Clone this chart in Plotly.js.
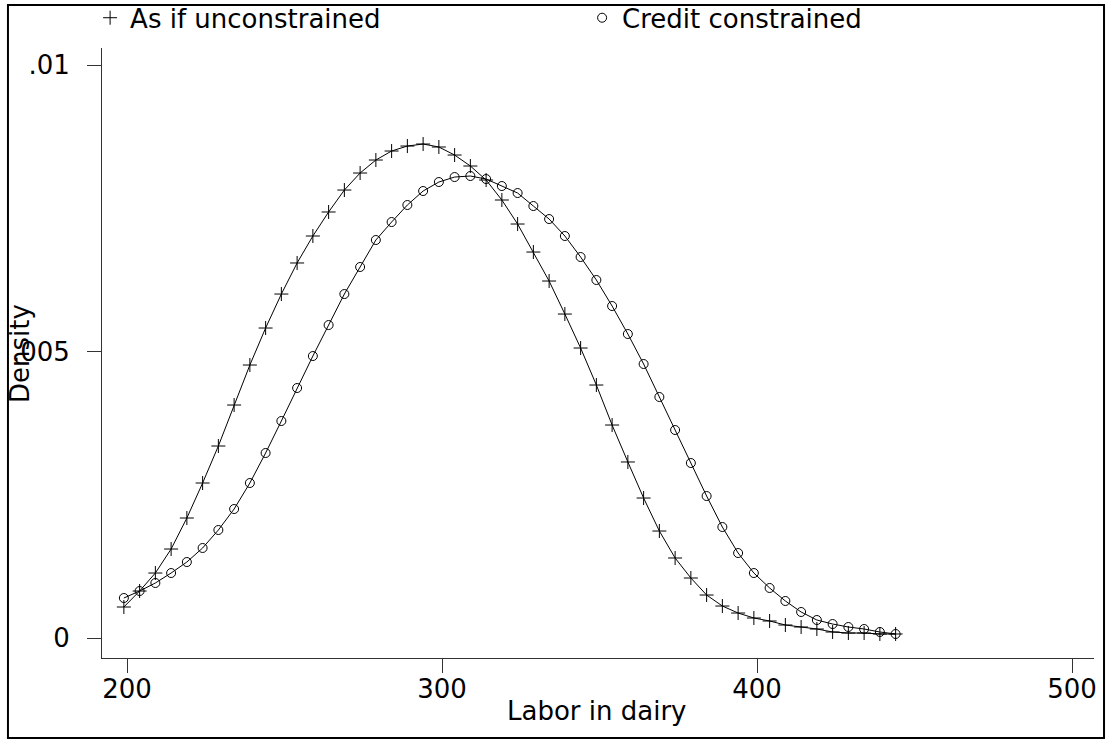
<!DOCTYPE html>
<html>
<head>
<meta charset="utf-8">
<script src="https://cdn.plot.ly/plotly-3.0.1.min.js"></script>
<style>html,body{margin:0;padding:0;background:#fff;}#chart{width:1113px;height:740px;}</style>
</head>
<body>
<div id="chart"></div>
<script>
// Labor in dairy grid points
const laborX = [199,204,209,214,219,224,229,234,239,244,249,254,259,264,269,274,279,284,289,294,
                299,304,309,314,319,324,329,334,339,344,349,354,359,364,369,374,379,384,389,394,
                399,404,409,414,419,424,429,434,439,444];
// Density: as if unconstrained
const densUnconstrained = [0.000541,0.000820,0.001134,0.001553,0.002094,0.002705,0.003351,0.004066,0.004764,0.005410,
                           0.006003,0.006545,0.007016,0.007435,0.007818,0.008115,0.008342,0.008499,0.008586,0.008621,
                           0.008569,0.008429,0.008237,0.007993,0.007644,0.007225,0.006736,0.006230,0.005654,0.005061,
                           0.004415,0.003717,0.003072,0.002443,0.001867,0.001396,0.001047,0.000750,0.000558,0.000436,
                           0.000349,0.000297,0.000227,0.000192,0.000157,0.000105,0.000087,0.000087,0.000070,0.000070];
// Density: credit constrained
const densConstrained = [0.000698,0.000820,0.000960,0.001134,0.001326,0.001571,0.001885,0.002251,0.002705,0.003229,
                         0.003787,0.004363,0.004921,0.005462,0.006003,0.006475,0.006946,0.007260,0.007557,0.007801,
                         0.007958,0.008045,0.008063,0.008010,0.007888,0.007766,0.007539,0.007312,0.007016,0.006649,
                         0.006248,0.005794,0.005305,0.004782,0.004206,0.003630,0.003054,0.002478,0.001937,0.001483,
                         0.001134,0.000873,0.000646,0.000454,0.000314,0.000244,0.000192,0.000157,0.000105,0.000070];
const seriesNames = ["As if unconstrained", "Credit constrained"];
const xTickVals = [200, 300, 400, 500];
const xTickText = ["200", "300", "400", "500"];
const yTickVals = [0, 0.005, 0.01];
const yTickText = ["0", ".005", ".01"];
const xTitle = "Labor in dairy";
const yTitle = "Density";

const FONT = "DejaVu Sans, Verdana, sans-serif";
const FS = 26;
const traces = [
  {x: laborX, y: densUnconstrained, type: "scatter", mode: "lines", showlegend: false,
   line: {color: "#000", width: 1}},
  {x: laborX, y: densConstrained, type: "scatter", mode: "lines", showlegend: false,
   line: {color: "#000", width: 1}},
  {x: laborX, y: densUnconstrained, name: seriesNames[0], type: "scatter", mode: "markers",
   marker: {symbol: "cross-thin-open", size: 10, color: "#000", line: {color: "#000", width: 1}}},
  {x: laborX, y: densConstrained, name: seriesNames[1], type: "scatter", mode: "markers",
   marker: {symbol: "circle-open", size: 9, color: "#000", line: {color: "#000", width: 1}}}
];

const layout = {
  width: 1113, height: 740,
  margin: {l: 102, r: 19, t: 48, b: 82, pad: 0, autoexpand: false},
  paper_bgcolor: "#fff", plot_bgcolor: "#fff",
  font: {family: FONT, size: FS, color: "#000"},
  showlegend: true,
  legend: {orientation: "h", x: -0.012, xanchor: "left", y: 1.088, yanchor: "top",
           entrywidth: 447, entrywidthmode: "pixels",
           font: {family: FONT, size: FS, color: "#000"}, bgcolor: "rgba(0,0,0,0)",
           itemsizing: "trace", tracegroupgap: 0},
  xaxis: {range: [192.06, 506.98], showline: true, linecolor: "#333", linewidth: 1,
          showgrid: false, zeroline: false, ticks: "outside", ticklen: 14, tickcolor: "#333",
          tickvals: xTickVals, ticktext: xTickText, tickfont: {size: FS}, mirror: false,
          ticklabelstandoff: -6},
  yaxis: {range: [-0.000349, 0.010297], showline: true, linecolor: "#333", linewidth: 1,
          showgrid: false, zeroline: false, ticks: "outside", ticklen: 14, tickcolor: "#333",
          tickvals: yTickVals, ticktext: yTickText, tickfont: {size: FS}, ticklabelstandoff: 12},
  annotations: [
    {text: xTitle, xref: "paper", yref: "paper", x: 0.499, y: -0.0869, xanchor: "center", yanchor: "middle",
     showarrow: false, font: {size: FS}},
    {text: yTitle, xref: "paper", yref: "paper", x: -0.0827, y: 0.5, xanchor: "center", yanchor: "middle",
     textangle: -90, showarrow: false, font: {size: FS}}
  ],
  shapes: [
    {type: "rect", xref: "paper", yref: "paper", x0: -0.0948, x1: 1.0101, y0: -0.1311, y1: 1.0705,
     line: {color: "#000", width: 2}, fillcolor: "rgba(0,0,0,0)", layer: "below"}
  ]
};

Plotly.newPlot("chart", traces, layout, {displayModeBar: false, staticPlot: true});
</script>
</body>
</html>
